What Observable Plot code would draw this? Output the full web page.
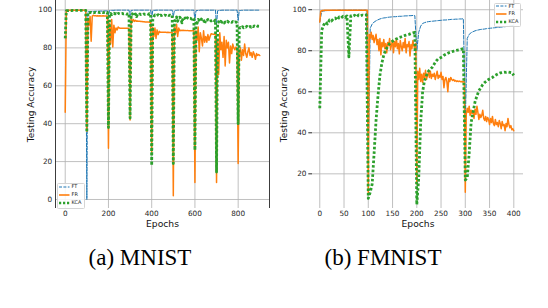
<!DOCTYPE html>
<html><head><meta charset="utf-8">
<script src="https://cdn.jsdelivr.net/npm/d3@7"></script>
<script src="https://cdn.jsdelivr.net/npm/@observablehq/plot@0.6"></script>
<style>
body{margin:0;background:#fff;}
#wrap{position:relative;width:548px;height:308px;overflow:hidden;background:#fff;}
.panel{position:absolute;top:0;}
.cap{position:absolute;font-family:"Liberation Serif","Times New Roman",serif;font-size:23px;line-height:1;color:#000;white-space:nowrap;}
.legend{position:absolute;background:rgba(255,255,255,0.85);border:0.7px solid #d4d4d4;border-radius:1.5px;box-sizing:border-box;}
.lrow{position:absolute;font-family:"DejaVu Sans";font-size:5px;line-height:1;color:#222;white-space:nowrap;}
</style></head>
<body><div id="wrap"></div>
<script>
// ---------------- data ----------------
const seriesNames = ["FT", "FR", "KCA"];
const seriesColors = ["#1f77b4", "#ff7f0e", "#2ca02c"];

// MNIST: one value every 5 epochs, epochs 0..900
const mnistStep = 5;
const mnistFT = [
  99.5,99.7,99.8,99.8,99.8,99.9,99.8,99.9,99.9,99.9,99.9,99.9,99.9,99.9,99.9,99.9,99.9,99.9,99.9,99.9,
  0,99.0,99.1,99.1,99.2,99.2,99.2,99.3,99.3,99.3,99.3,99.4,99.4,99.4,99.4,99.4,99.5,99.5,99.5,99.5,
  97,99.7,99.8,99.8,99.8,99.8,99.9,99.9,99.9,99.9,99.9,99.9,99.9,99.9,99.9,99.9,99.9,99.9,99.9,99.9,
  97,99.8,99.8,99.9,99.9,99.9,99.9,99.9,99.9,99.9,99.9,99.9,99.9,99.9,99.9,99.9,99.9,99.9,99.9,99.9,
  96,99.7,99.8,99.8,99.9,99.9,99.9,99.9,99.9,99.9,99.9,99.9,99.9,99.9,99.9,99.9,99.9,99.9,99.9,99.9,
  96.5,99.7,99.8,99.8,99.9,99.9,99.9,99.9,99.9,99.9,99.9,99.9,99.9,99.9,99.9,99.9,99.9,99.9,99.9,99.9,
  94.5,99.6,99.7,99.8,99.8,99.9,99.9,99.9,99.9,99.9,99.9,99.9,99.9,99.9,99.9,99.9,99.9,99.9,99.9,99.9,
  92,99.6,99.7,99.8,99.8,99.9,99.9,99.9,99.9,99.9,99.9,99.9,99.9,99.9,99.9,99.9,99.9,99.9,99.9,99.9,
  94.5,99.6,99.7,99.8,99.8,99.9,99.9,99.9,99.9,99.9,99.9,99.9,99.9,99.9,99.9,99.9,99.9,99.9,99.9,99.9,
  99.9
];
const mnistFR = [
  46,99.5,99.7,99.8,99.8,99.8,99.8,99.9,99.8,99.9,99.9,99.8,99.9,99.9,99.9,99.9,99.9,99.9,99.9,99.9,
  36,95,92,96.5,83.5,96.8,97.2,96.9,97,96.8,96.9,96.8,96.9,96.8,96.8,96.9,96.8,96.8,96.8,96.8,
  27,93,82,95,80.5,92,88,90.5,89.5,91,90.5,90.3,90.4,90.3,90.4,90.3,90.3,90.3,90.3,90.3,
  42,95.5,93.5,95,94,94.5,94,94.2,94,94,93.9,93.9,93.8,93.8,93.7,93.7,93.6,93.6,93.5,93.5,
  25,91,86,90.5,85,89.5,87,88.7,88.2,88.3,88.2,88.3,88.2,88.2,88.1,88.2,88.1,88.1,88.1,88.1,
  2,91,87.5,92.5,86,90.5,89,89.3,89.2,89.3,89.2,89.2,89.1,89.2,89.1,89.1,89,89,89,89,
  9,89,84,91,78,88,85,81,89,83,86,83,87,84,86,87.5,87.3,87.2,87.2,87.1,
  9,84,66,88,79,83,75,86,70.5,84,80,83,72,81,77,82,80,79,80.5,79,
  19,77,80,73.5,79,76,82,77,75,78,80,76,77.5,75,78,76.5,74,77,76,76.5,
  76
];
const mnistKCA = [
  85,99.6,99.7,99.7,99.8,99.8,99.7,99.8,99.8,99.8,99.8,99.8,99.8,99.8,99.8,99.8,99.8,99.8,99.8,99.8,
  35.5,98.5,98.8,98.6,98.7,98.5,98.8,98.6,98.7,98.6,98.8,98.7,98.6,98.8,98.7,98.6,98.7,98.8,98.6,98.7,
  38,97.8,98.2,97.5,98.0,98.3,97.9,98.1,97.6,98.2,98.0,97.8,98.1,98.2,97.9,98.0,98.1,97.8,98.0,98.1,
  43,97.5,98.0,96.8,97.6,97.9,96.5,97.8,97.4,97.9,97.6,97.8,97.5,97.9,97.7,97.8,98.0,97.7,98.1,97.9,
  18,94.8,96.5,97.4,96.9,97.2,97.5,96.8,97.3,97.1,97.4,97.0,97.3,97.2,96.9,97.4,97.1,97.3,97.0,97.2,
  19,93.5,95.5,96.3,94.0,95.8,96.2,95.4,93.2,96.0,95.5,95.8,94.8,95.9,95.3,95.7,95.6,95.2,95.8,95.5,
  26,94.0,93.0,95.0,94.6,93.8,95.2,94.5,94.9,92.8,94.7,94.3,95.0,94.4,94.8,94.2,94.6,94.9,94.3,94.7,
  14.5,92.5,93.8,93.2,94.0,93.5,93.9,93.1,93.7,93.4,94.1,93.6,93.3,93.8,93.5,93.9,93.4,93.7,93.6,93.3,
  40,90.2,90.8,90.5,91.2,90.6,91.0,90.9,91.4,90.7,91.1,91.3,90.9,91.5,91.2,91.6,91.3,91.7,91.4,91.5,
  91.5
];

// FMNIST: FT and KCA every 4 epochs, FR every 2 epochs, epochs 0..400
const fmStepFT = 4, fmStepFR = 2, fmStepKCA = 4;
const fmnistFT = [
  94,99.2,99.4,99.5,99.6,99.6,99.7,99.7,99.7,99.7,99.8,99.8,99.8,99.8,99.8,99.8,99.8,99.8,99.8,99.8,99.8,99.8,99.8,99.8,99.8,
  26.5,91,93,94,94.6,95.1,95.5,95.8,96,96.1,96.3,96.4,96.5,96.6,96.6,96.7,96.8,96.8,96.9,97,97,97.1,97.1,97.2,97.1,
  80,89,92,93.3,93.7,94,94.2,94.3,94.4,94.5,94.6,94.7,94.8,94.9,95,95,95.1,95.2,95.3,95.3,95.4,95.4,95.5,95.5,95.6,
  45,86,88,88.8,89.3,89.7,90,90.2,90.4,90.5,90.6,90.8,90.9,91,91.1,91.2,91.3,91.4,91.5,91.6,91.7,91.8,91.9,92,92.1,
  92.2
];
const fmnistFR = [
  94,99.3,99.5,99.6,99.6,99.7,99.7,99.7,99.7,99.8,99.8,99.8,99.8,99.8,99.8,99.8,99.8,99.8,99.8,99.8,99.8,99.8,99.8,99.8,99.8,
  99.8,99.8,99.8,99.8,99.8,99.8,99.8,99.8,99.8,99.8,99.8,99.8,99.8,99.8,99.8,99.8,99.8,99.8,99.8,99.8,99.8,99.8,99.8,99.8,99.8,
  10,88,86,89,85.5,87.5,84,86,88,83,85.5,80,86,78,84,82,85.5,81,83.5,79,84,82.5,86,80.5,83,
  85,79,84.5,82,86,81,83.5,78.5,85,82,80,84,81.5,86,79,83,82,84.5,77.5,83,81,85,82.5,80.5,83.5,
  15,70,66,71.5,65,68.5,64.5,69,67,70.5,66,68,69.5,67,70,66.5,68.5,67.5,69,66,68,70,66.5,68,67,
  69.5,66,67.5,62,66,67,65,60,66.5,65,67,66,65.5,66,65.2,65.5,65,65.3,65,65.2,64.9,65,64.8,65,64.7,
  11,49,52,50,53,48.5,51,49.5,50.5,47,51.5,49,53,50,46.5,49,47.5,48.5,51,47,46,48,45.5,47.5,46.5,
  44,47,45,48,44.5,43.5,46.5,44,45,43,46,44.5,42,45.5,43.5,44,41,44.5,43,47,44,42.5,43.5,41.5,42,
  41
];
const fmnistKCA = [
  52,90,92.5,94,93,95,94.5,95.5,96,95,96.5,96,96.8,96.3,97,77,97,96.8,97.3,96.5,97.5,97,97.4,97.2,97.5,
  8,11,15,30,46,58,68,74,78,80.5,82,83.5,84.3,85,85.6,86,86.5,86.8,87.2,87.5,87.8,88,88.4,88.7,89,
  5,18,45,60,65.5,68,70,71,72,73.5,75,76,76.5,77,77.8,78.3,78.8,79.2,79.5,79.8,80.1,80.3,80.5,80.8,81,
  17,18,30,45,50,55,58,60.5,62,63.5,64.5,65.3,66,66.5,67,67.8,68.3,68.8,69.2,69.4,69.6,69.5,69.7,69.5,69.3,
  68
];

const mnistXTicks = [0, 200, 400, 600, 800];
const mnistYTicks = [0, 20, 40, 60, 80, 100];
const fmnistXTicks = [0, 50, 100, 150, 200, 250, 300, 350, 400];
const fmnistYTicks = [20, 40, 60, 80, 100];
const captions = ["(a) MNIST", "(b) FMNIST"];
const footText = "Figure 3:  Learning curves of the incremental learning tasks.";

// ---------------- build ----------------
const toRows = (arr, step) => arr.map((v, i) => ({epoch: i * step, acc: v}));

function panel(cfg) {
  const [ft, fr, kca] = cfg.series;
  const marks = [
    Plot.gridX(cfg.xTicks, {stroke: "#b0b0b0", strokeOpacity: 1, strokeWidth: 0.8}),
    Plot.gridY(cfg.yTicks, {stroke: "#b0b0b0", strokeOpacity: 1, strokeWidth: 0.8}),
    Plot.axisX(cfg.xTicks, {tickSize: 0, tickPadding: 2.5, label: null, fill: "#262626"}),
    Plot.axisY(cfg.yTicks, {tickSize: cfg.yTickSize, tickPadding: cfg.yTickPad, label: null, fill: "#262626", stroke: "#262626"}),
  ];
  if (cfg.spines) marks.push(Plot.ruleX(cfg.xDomain, {stroke: "#262626", strokeWidth: 0.9}));
  marks.push(
    Plot.line(ft, {x: "epoch", y: "acc", stroke: seriesColors[0], strokeWidth: 1, strokeDasharray: "3.7,1.6"}),
    Plot.line(fr, {x: "epoch", y: "acc", stroke: seriesColors[1], strokeWidth: 1.5}),
    Plot.line(kca, {x: "epoch", y: "acc", stroke: seriesColors[2], strokeWidth: 2.8, strokeDasharray: "2.6,2", strokeLinecap: "butt"}),
    Plot.text(["Epochs"], {text: d => d, frameAnchor: "bottom", dy: 16, lineAnchor: "middle", fontSize: 9.2, fill: "#111"}),
    Plot.text(["Testing Accuracy"], {text: d => d, frameAnchor: "left", dx: cfg.yLabelDx, rotate: -90, textAnchor: "middle", lineAnchor: "middle", fontSize: 9, fill: "#111"})
  );
  return Plot.plot({
    width: 274, height: 230,
    marginTop: 0, marginBottom: 22, marginLeft: cfg.marginLeft, marginRight: cfg.marginRight,
    style: {fontFamily: "DejaVu Sans", fontSize: "7.3px", background: "transparent", overflow: "visible"},
    x: {domain: cfg.xDomain}, y: {domain: cfg.yDomain},
    marks
  });
}

const wrap = document.getElementById("wrap");

const left = panel({
  series: [toRows(mnistFT, mnistStep), toRows(mnistFR, mnistStep), toRows(mnistKCA, mnistStep)],
  xTicks: mnistXTicks, yTicks: mnistYTicks,
  xDomain: [-45, 945], yDomain: [-4.75, 105],
  marginLeft: 55, marginRight: 5, yTickSize: 0, yTickPad: 3.3, spines: true, yLabelDx: -24.3
});
left.classList.add("panel"); left.style.left = "0px";
wrap.appendChild(left);

const right = panel({
  series: [toRows(fmnistFT, fmStepFT), toRows(fmnistFR, fmStepFR), toRows(fmnistKCA, fmStepKCA)],
  xTicks: fmnistXTicks, yTicks: fmnistYTicks,
  xDomain: [-15, 420], yDomain: [3.1, 104.5],
  marginLeft: 38, marginRight: 25, yTickSize: 3.7, yTickPad: 2.3, spines: false, yLabelDx: -28
});
right.classList.add("panel"); right.style.left = "274px";
wrap.appendChild(right);

// legends
function legend(box, rows) {
  const b = document.createElement("div");
  b.className = "legend";
  Object.assign(b.style, {left: box.x + "px", top: box.y + "px", width: box.w + "px", height: box.h + "px"});
  wrap.appendChild(b);
  const styles = [
    {w: 1, dash: "3,1.4"},
    {w: 1.6, dash: null},
    {w: 2.4, dash: "2.2,1.8"}
  ];
  rows.forEach((cy, i) => {
    const ns = "http://www.w3.org/2000/svg";
    const s = document.createElementNS(ns, "svg");
    s.setAttribute("width", 11); s.setAttribute("height", 4);
    s.style.position = "absolute"; s.style.left = (box.x + 2.3) + "px"; s.style.top = (cy - 2) + "px";
    const l = document.createElementNS(ns, "line");
    l.setAttribute("x1", 0); l.setAttribute("x2", 10.5); l.setAttribute("y1", 2); l.setAttribute("y2", 2);
    l.setAttribute("stroke", seriesColors[i]); l.setAttribute("stroke-width", styles[i].w);
    if (styles[i].dash) l.setAttribute("stroke-dasharray", styles[i].dash);
    s.appendChild(l); wrap.appendChild(s);
    const t = document.createElement("div");
    t.className = "lrow"; t.textContent = seriesNames[i];
    t.style.left = (box.x + 14.5) + "px"; t.style.top = (cy - 2.6) + "px";
    wrap.appendChild(t);
  });
}
legend({x: 57, y: 183, w: 28, h: 26}, [186.5, 194.5, 202.5]);
legend({x: 494, y: 2.5, w: 27, h: 24}, [6.2, 14, 21.8]);

// captions
const capCenters = [140, 383];
captions.forEach((c, i) => {
  const d = document.createElement("div");
  d.className = "cap"; d.textContent = c;
  d.style.top = "245.8px"; d.style.left = capCenters[i] + "px"; d.style.transform = "translateX(-50%)";
  wrap.appendChild(d);
});
const foot = document.createElement("div");
foot.className = "cap"; foot.textContent = footText;
foot.style.top = "306.5px"; foot.style.left = "-1px"; foot.style.wordSpacing = "8px";
wrap.appendChild(foot);
</script>
</body></html>
